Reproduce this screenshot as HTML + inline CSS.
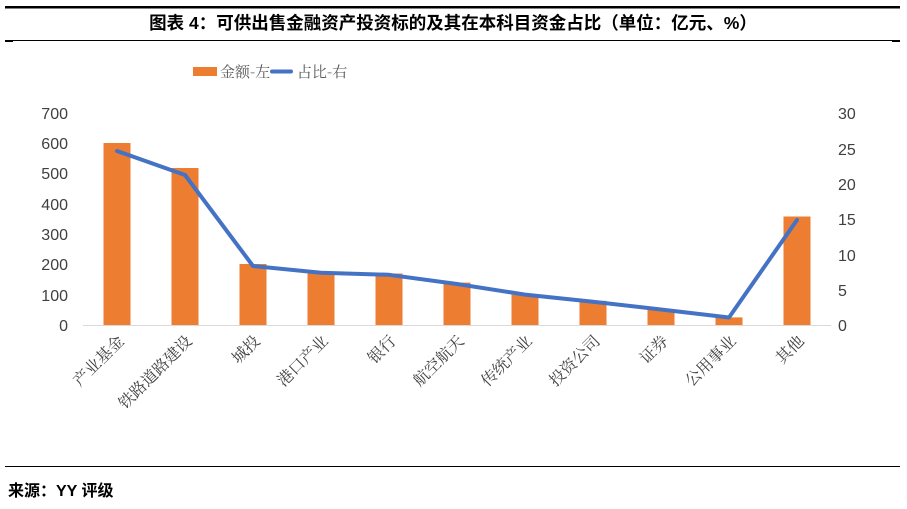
<!DOCTYPE html>
<html><head><meta charset="utf-8"><style>
body{margin:0;background:#fff;}
svg{display:block;font-family:"Liberation Sans","Noto Sans CJK SC",sans-serif;}
</style></head><body>
<svg width="907" height="509" viewBox="0 0 907 509">
<rect x="5" y="6" width="895" height="2.5" fill="#000"/>
<text x="453" y="29" text-anchor="middle" font-size="17.5" font-weight="bold" fill="#000">图表 4：可供出售金融资产投资标的及其在本科目资金占比（单位：亿元、%）</text>
<rect x="5" y="40" width="895" height="1" fill="#000"/>
<rect x="5" y="40" width="8" height="2" fill="#000"/>
<rect x="892" y="40" width="8" height="2" fill="#000"/>
<rect x="193" y="67" width="24" height="9" fill="#ED7D31"/>
<text x="220" y="77" font-size="15" fill="#595959" font-family="'Noto Serif CJK SC',serif">金额-左</text>
<rect x="270" y="69.5" width="23" height="4" rx="2" fill="#4472C4"/>
<text x="297" y="77" font-size="15" fill="#595959" font-family="'Noto Serif CJK SC',serif">占比-右</text>
<g font-size="16" fill="#404040" text-anchor="end">
<text x="68" y="331">0</text><text x="68" y="301">100</text><text x="68" y="270">200</text><text x="68" y="240">300</text><text x="68" y="210">400</text><text x="68" y="179">500</text><text x="68" y="149">600</text><text x="68" y="119">700</text>
</g>
<g font-size="16" fill="#404040" text-anchor="start">
<text x="838" y="331">0</text><text x="838" y="296">5</text><text x="838" y="261">10</text><text x="838" y="225">15</text><text x="838" y="190">20</text><text x="838" y="155">25</text><text x="838" y="119">30</text>
</g>
<line x1="83" y1="325.5" x2="831" y2="325.5" stroke="#d9d9d9" stroke-width="1"/>
<g fill="#ED7D31">
<rect x="103.5" y="143" width="27" height="182"/>
<rect x="171.5" y="168" width="27" height="157"/>
<rect x="239.5" y="264" width="27" height="61"/>
<rect x="307.5" y="273.5" width="27" height="51.5"/>
<rect x="375.5" y="273.5" width="27" height="51.5"/>
<rect x="443.5" y="282.6" width="27" height="42.4"/>
<rect x="511.5" y="294.7" width="27" height="30.3"/>
<rect x="579.5" y="300.8" width="27" height="24.2"/>
<rect x="647.5" y="309.9" width="27" height="15.1"/>
<rect x="715.5" y="317.4" width="27" height="7.6"/>
<rect x="783.5" y="216.5" width="27" height="108.5"/>
</g>
<polyline fill="none" stroke="#4472C4" stroke-width="4" stroke-linejoin="round" stroke-linecap="round"
points="117,151 185,175 253,266 321,272.7 389,274.8 457,284 525,294.6 593,301.7 661,309.5 729,317.5 797,220"/>
<g font-size="16" fill="#404040" text-anchor="end" font-family="'Noto Serif CJK SC',serif">
<text transform="translate(125,342) rotate(-45)">产业基金</text>
<text transform="translate(193,342) rotate(-45)">铁路道路建设</text>
<text transform="translate(261,342) rotate(-45)">城投</text>
<text transform="translate(329,342) rotate(-45)">港口产业</text>
<text transform="translate(397,342) rotate(-45)">银行</text>
<text transform="translate(465,342) rotate(-45)">航空航天</text>
<text transform="translate(533,342) rotate(-45)">传统产业</text>
<text transform="translate(601,342) rotate(-45)">投资公司</text>
<text transform="translate(669,342) rotate(-45)">证券</text>
<text transform="translate(737,342) rotate(-45)">公用事业</text>
<text transform="translate(805,342) rotate(-45)">其他</text>
</g>
<rect x="5" y="466" width="895" height="1" fill="#000"/>
<text x="8" y="496" font-size="16" font-weight="bold" fill="#000">来源：YY 评级</text>
</svg>
</body></html>
